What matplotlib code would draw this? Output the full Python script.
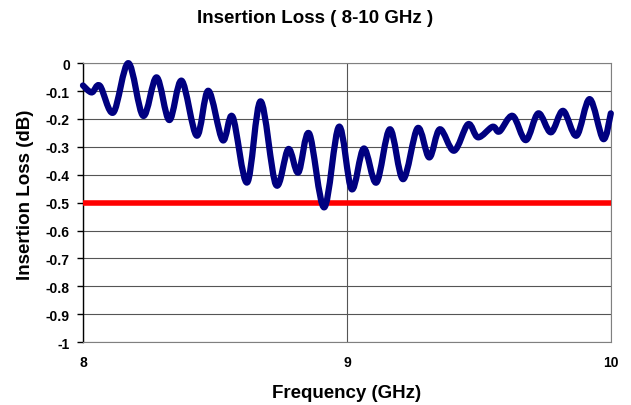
import numpy as np
import matplotlib
matplotlib.use("Agg")
import matplotlib.pyplot as plt
from matplotlib.path import Path
from matplotlib.patches import PathPatch

plt.rcParams["font.family"] = ["Liberation Sans", "DejaVu Sans"]
plt.rcParams["font.weight"] = "bold"

# Frequency (GHz) and insertion loss (dB) at the turning points
freq = [8.000, 8.033, 8.064, 8.115, 8.172, 8.228, 8.279, 8.327, 8.374, 8.431,
        8.475, 8.529, 8.567, 8.622, 8.673, 8.731, 8.778, 8.816, 8.857, 8.914,
        8.970, 9.018, 9.064, 9.112, 9.163, 9.213, 9.268, 9.312, 9.352, 9.406,
        9.459, 9.497, 9.552, 9.578, 9.628, 9.678, 9.725, 9.773, 9.819, 9.870,
        9.920, 9.971, 10.000]
loss = [-0.080, -0.105, -0.081, -0.177, 0.000, -0.189, -0.051, -0.204, -0.063, -0.260,
        -0.099, -0.276, -0.192, -0.428, -0.137, -0.436, -0.308, -0.392, -0.252, -0.517,
        -0.228, -0.452, -0.306, -0.428, -0.237, -0.416, -0.233, -0.338, -0.237, -0.314,
        -0.219, -0.266, -0.228, -0.245, -0.189, -0.276, -0.180, -0.248, -0.171, -0.260,
        -0.129, -0.272, -0.180]
spec_limit = -0.5


def smooth_path(xs, ys, t=1 / 6):
    # Excel-style smoothed line: cubic Bezier segments through each point
    pts = np.column_stack([xs, ys])
    verts = [pts[0]]
    codes = [Path.MOVETO]
    n = len(pts)
    for i in range(n - 1):
        p0 = pts[max(i - 1, 0)]
        p1 = pts[i]
        p2 = pts[i + 1]
        p3 = pts[min(i + 2, n - 1)]
        c1 = p1 + (p2 - p0) * t
        c2 = p2 - (p3 - p1) * t
        verts += [c1, c2, p2]
        codes += [Path.CURVE4] * 3
    return Path(verts, codes)


fig = plt.figure(figsize=(6.31, 4.06), dpi=100)
ax = fig.add_axes([0.1315, 0.155, 0.8365, 0.687])

ax.set_xlim(8, 10)
ax.set_ylim(-1, 0)
ax.set_xticks([8, 9, 10])
ax.set_yticks(np.round(np.arange(-1, 0.01, 0.1), 1))
ax.set_yticklabels(["-1", "-0.9", "-0.8", "-0.7", "-0.6", "-0.5", "-0.4",
                    "-0.3", "-0.2", "-0.1", "0"])

ax.grid(True, color="#555555", linewidth=0.8)
ax.set_axisbelow(True)

ax.axhline(spec_limit, color="#ff0000", linewidth=4, zorder=3)
ax.add_patch(PathPatch(smooth_path(freq, loss), facecolor="none",
                       edgecolor="#000080", linewidth=4.5, zorder=4,
                       capstyle="round", joinstyle="round", clip_on=False))

for side in ["top", "right", "bottom"]:
    ax.spines[side].set_color("#808080")
    ax.spines[side].set_linewidth(0.8)
ax.spines["left"].set_color("black")
ax.spines["left"].set_linewidth(1)

ax.tick_params(axis="y", direction="out", length=4.5, width=1, labelsize=10, pad=5)
ax.tick_params(axis="x", length=0, labelsize=10, pad=9)

fig.text(0.5, 0.955, "Insertion Loss ( 8-10 GHz )", fontsize=13.5,
         fontweight="bold", ha="center", va="center")
ax.set_xlabel("Frequency (GHz)", fontsize=13.5, fontweight="bold", labelpad=11)
ax.set_ylabel("Insertion Loss (dB)", fontsize=13.5, fontweight="bold")
ax.yaxis.set_label_coords(-0.093, 0.53)

fig.savefig("out.png", dpi=100)
